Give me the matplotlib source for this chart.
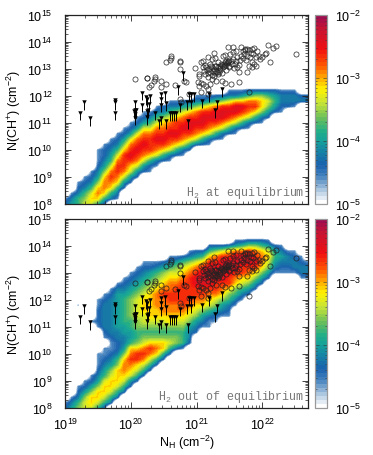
"""
plot.py
N(CH+) versus N_H: density maps with the observed points on top
"""

import numpy as np
import matplotlib
matplotlib.use('Agg')
import matplotlib.pyplot as plt
from matplotlib.cm import ScalarMappable
from matplotlib.colors import LinearSegmentedColormap, LogNorm, Normalize
from matplotlib.ticker import LogLocator, NullFormatter

plt.rcParams['font.family'] = ['Liberation Sans', 'DejaVu Sans']
plt.rcParams['mathtext.default'] = 'regular'

# log10 density of each level used in the columns below, 0 is empty
level_logs = [-6, -4.6, -4.4, -4.2, -4.0, -3.8, -3.57, -3.34, -3.11, -2.88, -2.65, -2.42, -2.2]

# columns of the density map, one every 0.1 dex in N_H starting at 10^19
# (first log N(CH+) of the column, then one level per 0.2 dex going up)
top_columns = [
    (8.0, "21"), (8.0, "431"), (8.0, "55321"), (8.0, "765321"), (8.0, "7875321"),
    (8.0, "58986432111"), (8.0, "258998643221"), (8.2, "3589a9754321"),
    (8.2, "13589aa975321"), (8.6, "2479aaa86421"),
    (8.8, "2478aba97421"), (9.0, "2479aba97421"), (9.2, "2479aba97421"),
    (9.2, "1258aaa97531"), (9.4, "1379aba97531"), (9.6, "258aba98632"),
    (9.6, "1379aba97531"), (9.8, "258abaa8631"), (9.8, "1379aba9742"),
    (10.0, "258abba852"), (10.2, "379aba9631"), (10.2, "258abba731"),
    (10.2, "1379aba841"), (10.4, "258abb952"), (10.4, "1379bba62"),
    (10.6, "258aba731"), (10.6, "1379bb831"), (10.8, "258ab841"),
    (10.8, "1379a952"), (11.0, "258a962"), (11.0, "1368862"),
    (11.2, "246752"), (11.4, "24542"), (11.4, "12331"),
    (11.6, "2331"), (11.6, "1331"), (11.8, "32"), (11.8, "32"),
]
bottom_columns = [
    (8.0, "21"), (8.0, "431"), (8.0, "65321000000000000001"), (8.0, "776421"),
    (8.0, "78864210000000001"),
    (8.0, "578864321110000122211"), (8.0, "2578875432110123333321"),
    (8.2, "3578876432112333333321"), (8.4, "3578886532233444444431"),
    (8.6, "3578998643344555554321"), (8.8, "24789a9854455666654321"),
    (9.0, "2578aa8655667777654321"), (9.2, "2579a97656778887654321"),
    (9.4, "2579a8656788888765421"), (9.6, "25898656788999876531"),
    (9.8, "258865678999a987642"), (10.0, "2576568899aa9987531"),
    (10.2, "366567899aaa987641"), (10.2, "15556789aaaaa98752"),
    (10.4, "23346789aaaaa98631"), (10.8, "2346789aabba9742"),
    (11.0, "134689aabbba852"), (11.0, "1135789abbbba852"),
    (11.2, "124679aabbba962"), (11.4, "134689abbbba72"),
    (11.4, "123568aabbba83"), (11.8, "135689abbb941"),
    (12.0, "13578aabb951"), (12.2, "24689abba62"), (12.4, "2468aba962"),
    (12.6, "246899852"), (12.8, "24678741"), (13.0, "134542"),
    (13.0, "123431"), (13.0, "12331"), (13.0, "13321"), (12.8, "13321"), (12.8, "1331"),
]

# detections, log10 of the column densities
det_lognh = [
    20.06, 20.24, 20.24, 20.36, 20.36, 20.35, 20.31, 20.27, 20.45, 20.54, 20.46,
    20.67, 20.74, 20.81, 20.84, 20.54, 20.60, 20.61, 20.61, 20.75, 20.75, 20.98,
    20.75, 20.76, 20.89, 21.04, 21.02, 21.06, 21.03, 21.06, 21.10, 21.14, 21.17,
    21.20, 21.18, 21.07, 21.10, 21.17, 21.26, 21.24, 21.28, 21.09, 21.04, 21.11,
    21.14, 21.13, 21.17, 21.21, 21.19, 21.18, 21.23, 21.25, 21.24, 21.28, 21.29,
    21.32, 21.33, 21.32, 21.35, 21.37, 21.38, 21.40, 21.43, 21.40, 21.43, 21.45,
    21.48, 21.50, 21.44, 21.49, 21.54, 21.56, 21.48, 21.55, 21.60, 21.57, 21.62,
    21.64, 21.66, 21.70, 21.74, 21.77, 21.72, 21.77, 21.81, 21.67, 21.61, 21.55,
    21.51, 21.87, 21.92, 21.86, 21.90, 21.95, 21.84, 21.87, 21.90, 21.85, 21.80,
    21.77, 21.64, 21.52, 21.43, 21.29, 21.24, 21.38, 22.08, 22.16, 22.21, 22.04,
    22.05, 21.97, 22.00, 22.11, 22.52, 21.80, 21.22, 21.27, 21.30, 21.31, 21.35,
    21.36, 21.39, 21.41, 21.42, 21.46, 21.47, 21.44, 21.50, 21.52, 21.20, 21.16,
    21.26, 21.34, 21.28, 21.12, 21.58, 21.60, 21.65, 21.70, 21.75, 21.82, 21.79,
    21.84, 21.73, 21.68,
]
det_lognch = [
    12.62, 12.67, 12.68, 12.69, 12.62, 12.56, 12.41, 12.33, 12.54, 12.43, 12.32,
    12.41, 12.99, 12.54, 12.51, 13.25, 13.33, 13.40, 13.48, 13.31, 13.27, 13.02,
    11.89, 11.77, 12.07, 12.73, 12.53, 12.48, 12.36, 12.14, 12.44, 12.36, 12.26,
    12.44, 12.09, 13.25, 13.31, 13.43, 13.59, 13.36, 13.40, 13.06, 12.81, 12.94,
    13.06, 12.81, 12.69, 13.19, 13.00, 12.85, 12.78, 12.94, 13.06, 13.12, 12.94,
    13.25, 13.06, 12.81, 12.98, 13.19, 12.85, 13.47, 13.52, 13.06, 13.25, 13.15,
    13.25, 13.35, 12.98, 13.06, 13.19, 13.37, 13.80, 13.83, 13.68, 13.02, 13.06,
    12.90, 13.33, 13.68, 13.72, 13.74, 13.56, 13.49, 13.43, 13.47, 13.43, 13.62,
    13.56, 13.78, 13.68, 13.56, 13.43, 13.49, 13.25, 13.19, 13.12, 13.06, 13.12,
    12.88, 12.53, 12.44, 12.47, 12.57, 12.63, 12.57, 13.89, 13.78, 13.86, 13.56,
    13.58, 13.37, 13.43, 13.25, 13.56, 12.14, 13.12, 13.00, 13.10, 12.88, 13.12,
    13.03, 13.15, 13.20, 13.10, 13.22, 13.30, 13.28, 13.12, 13.28, 12.90, 12.95,
    12.75, 12.90, 12.85, 13.15, 13.20, 13.30, 13.15, 13.40, 13.35, 13.60, 13.70,
    13.75, 13.75, 13.80,
]

# upper limits, log10 of the column densities
lim_lognh = [
    19.23, 19.28, 19.38, 19.76, 19.76, 19.76, 20.06, 20.06, 20.08, 20.04, 20.06,
    20.06, 20.17, 20.17, 20.23, 20.25, 20.27, 20.29, 20.24, 20.26, 20.24, 20.36,
    20.45, 20.52, 20.46, 20.46, 20.54, 20.46, 20.42, 20.54, 20.59, 20.62, 20.65,
    20.68, 20.72, 20.79, 20.74, 20.85, 20.91, 20.88, 20.91, 20.96, 21.08, 21.19,
    21.38, 21.31, 21.28, 20.87,
]
lim_lognch = [
    11.38, 11.77, 11.17, 11.86, 11.77, 11.38, 11.77, 11.48, 11.48, 11.46, 11.33,
    11.19, 12.12, 11.68, 11.95, 11.89, 11.70, 12.01, 11.46, 11.48, 11.21, 11.38,
    12.07, 12.10, 11.89, 11.67, 11.74, 11.19, 11.07, 11.07, 11.37, 11.37, 11.37,
    11.37, 12.32, 12.85, 11.68, 11.77, 11.79, 12.07, 12.07, 12.07, 11.83, 12.07,
    12.26, 11.79, 11.48, 11.07,
]

panel_notes = ['H$_2$ at equilibrium', 'H$_2$ out of equilibrium']
y_exps = [8, 9, 10, 11, 12, 13, 14, 15]
x_exps = [19, 20, 21, 22]
cbar_ticks = [1e-5, 1e-4, 1e-3, 1e-2]

cmap = LinearSegmentedColormap.from_list('density', [
    (0.000, '#ffffff'), (0.067, '#a8c4de'), (0.133, '#4a86c0'), (0.203, '#1a62ae'),
    (0.277, '#1684a4'), (0.333, '#16a29a'), (0.380, '#22ae88'), (0.450, '#68be5c'),
    (0.540, '#c8e436'), (0.610, '#fff200'), (0.667, '#ffae00'), (0.733, '#ff5a00'),
    (0.823, '#f00f10'), (0.933, '#c81432'), (1.000, '#9e0f4f'),
], N=48)
cmap.set_under('white')


def columns_to_grid(columns):
    """Turn the level columns into a grid of log densities."""
    n_rows = int(round((max(f + 0.2 * (len(c) - 1) for f, c in columns) - 8.0) / 0.2)) + 2
    grid = np.full((n_rows, len(columns)), float(level_logs[0]))
    for j, (first, levels) in enumerate(columns):
        start = int(round((first - 8.0) / 0.2))
        for k, ch in enumerate(levels):
            grid[start + k, j] = level_logs[int(ch, 16)]
    return grid


def minor_positions(exps, limit):
    """Log positions of the 2..9 minor ticks inside the axis."""
    pos = [e + np.log10(m) for e in range(exps[0], exps[-1] + 1) for m in range(2, 10)]
    return [p for p in pos if p < limit]


def style_axis(ax):
    ax.set_xlim(19, 22.7)
    ax.set_ylim(8, 15)
    ax.set_xticks(x_exps)
    ax.set_xticklabels(['$10^{%d}$' % e for e in x_exps])
    ax.set_yticks(y_exps)
    ax.set_yticklabels(['$10^{%d}$' % e for e in y_exps])
    ax.set_xticks(minor_positions(x_exps, 22.7), minor=True)
    ax.set_yticks(minor_positions(y_exps, 15), minor=True)
    ax.tick_params(which='major', direction='in', length=4, width=0.6, top=True, right=True,
                   labelsize=9, color='#222222')
    ax.tick_params(which='minor', direction='in', length=2, width=0.5, top=True, right=True,
                   color='#222222')
    ax.tick_params(axis='y', which='major', pad=9)
    ax.tick_params(axis='x', which='major', pad=6)
    for side in ax.spines.values():
        side.set_linewidth(0.9)
        side.set_color('#222222')
    ax.set_ylabel('N(CH$^{+}$) (cm$^{-2}$)', fontsize=9, va='center')
    ax.yaxis.set_label_coords(-51.0 / 243, 0.5)


W, H = 373.0, 456.0
fig = plt.figure(figsize=(W / 100, H / 100), dpi=100)

panels = [(16, top_columns), (220, bottom_columns)]
for i, (top_px, columns) in enumerate(panels):
    ax = fig.add_axes([65.3 / W, 1 - (top_px + 189) / H, 243 / W, 189 / H])
    grid = columns_to_grid(columns)
    extent = [18.95, 19 + 0.1 * grid.shape[1] - 0.05, 7.9, 8 + 0.2 * grid.shape[0] - 0.1]
    ax.imshow(grid, origin='lower', extent=extent, aspect='auto', cmap=cmap,
              norm=Normalize(-5, -2), interpolation='bilinear', interpolation_stage='data',
              zorder=1)

    ax.plot(det_lognh, det_lognch, 'o', ms=3.7, mfc='none', mec='#222222', mew=0.5, zorder=3)

    # limits: triangle on the value, short stem going down
    ax.vlines(lim_lognh, np.array(lim_lognch) - 0.28, lim_lognch, color='black', lw=0.7, zorder=4)
    ax.plot(lim_lognh, lim_lognch, 'v', ms=3.2, color='black', mew=0, zorder=5)

    style_axis(ax)
    ax.text(0.982, 0.045, panel_notes[i], transform=ax.transAxes, ha='right', va='baseline',
            family=['Liberation Mono', 'DejaVu Sans Mono'], fontsize=8.4, color='#777777')
    if i == 0:
        ax.tick_params(which='both', labelbottom=False)
    else:
        ax.set_xlabel('N$_{H}$ (cm$^{-2}$)', fontsize=9, va='center')
        ax.xaxis.set_label_coords(0.5, -34.0 / 189)

    cax = fig.add_axes([314.5 / W, 1 - (top_px + 189) / H, 12.5 / W, 189 / H])
    cb = fig.colorbar(ScalarMappable(norm=LogNorm(1e-5, 1e-2), cmap=cmap), cax=cax)
    cb.set_ticks(cbar_ticks)
    cb.ax.yaxis.set_minor_locator(LogLocator(base=10, subs=np.arange(2, 10), numticks=10))
    cb.ax.yaxis.set_minor_formatter(NullFormatter())
    cb.ax.tick_params(which='major', direction='in', length=3, width=0.4, left=True, right=True,
                      labelsize=9, pad=5.5, color='#333333')
    cb.ax.tick_params(which='minor', direction='in', length=1.5, width=0.4, left=True, right=True,
                      color='#333333')
    cb.outline.set_edgecolor('#999999')
    cb.outline.set_linewidth(0.9)

fig.savefig('out.png', dpi=100)
